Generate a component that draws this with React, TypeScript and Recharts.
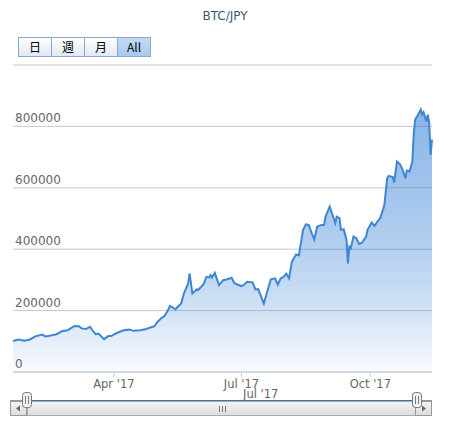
import { AreaChart, Area, XAxis, YAxis, CartesianGrid } from 'recharts';

// BTC/JPY closes (2017)
const dates = [
  '2017-01-19', '2017-01-23', '2017-01-27', '2017-01-31', '2017-02-04', '2017-02-09', '2017-02-11',
  '2017-02-15', '2017-02-19', '2017-02-23', '2017-02-27', '2017-03-01', '2017-03-04', '2017-03-07',
  '2017-03-09', '2017-03-12', '2017-03-15', '2017-03-16', '2017-03-19', '2017-03-21', '2017-03-25',
  '2017-03-28', '2017-03-30', '2017-04-03', '2017-04-08', '2017-04-12', '2017-04-15', '2017-04-20',
  '2017-04-24', '2017-04-27', '2017-04-30', '2017-05-02', '2017-05-05', '2017-05-07', '2017-05-09',
  '2017-05-11', '2017-05-13', '2017-05-15', '2017-05-16', '2017-05-19', '2017-05-21', '2017-05-24',
  '2017-05-25', '2017-05-27', '2017-05-30', '2017-05-31', '2017-06-02', '2017-06-04', '2017-06-06',
  '2017-06-08', '2017-06-09', '2017-06-10', '2017-06-12', '2017-06-15', '2017-06-18', '2017-06-21',
  '2017-06-24', '2017-06-26', '2017-06-28', '2017-07-01', '2017-07-03', '2017-07-05', '2017-07-09',
  '2017-07-11', '2017-07-13', '2017-07-17', '2017-07-19', '2017-07-22', '2017-07-25', '2017-07-27',
  '2017-07-29', '2017-07-31', '2017-08-02', '2017-08-04', '2017-08-06', '2017-08-09', '2017-08-11',
  '2017-08-14', '2017-08-16', '2017-08-18', '2017-08-20', '2017-08-22', '2017-08-24', '2017-08-27',
  '2017-08-29', '2017-08-30', '2017-09-02', '2017-09-04', '2017-09-06', '2017-09-07', '2017-09-09',
  '2017-09-10', '2017-09-12', '2017-09-14', '2017-09-15', '2017-09-16', '2017-09-17', '2017-09-19',
  '2017-09-21', '2017-09-23', '2017-09-25', '2017-09-28', '2017-09-29', '2017-10-02', '2017-10-04',
  '2017-10-06', '2017-10-08', '2017-10-10', '2017-10-11', '2017-10-13', '2017-10-14', '2017-10-17',
  '2017-10-18', '2017-10-20', '2017-10-22', '2017-10-24', '2017-10-26', '2017-10-27', '2017-10-29',
  '2017-10-31', '2017-11-01', '2017-11-02', '2017-11-04', '2017-11-06', '2017-11-07', '2017-11-08',
  '2017-11-10', '2017-11-11', '2017-11-12', '2017-11-13', '2017-11-14',
];

const prices = [
  101000, 106000, 102000, 106000, 116000, 122000, 116000,
  119000, 123000, 133000, 136000, 142000, 150000, 149000,
  142000, 140000, 147000, 140000, 123000, 125000, 107000,
  117000, 117000, 127000, 136000, 138000, 134000, 136000,
  140000, 145000, 149000, 163000, 176000, 182000, 196000,
  215000, 210000, 204000, 210000, 223000, 256000, 289000,
  321000, 256000, 269000, 267000, 276000, 286000, 310000,
  308000, 316000, 308000, 323000, 283000, 299000, 302000,
  307000, 289000, 285000, 280000, 285000, 294000, 292000,
  269000, 270000, 223000, 256000, 302000, 305000, 285000,
  305000, 310000, 320000, 305000, 359000, 383000, 380000,
  463000, 481000, 479000, 454000, 432000, 473000, 479000,
  479000, 506000, 539000, 512000, 485000, 506000, 501000,
  463000, 465000, 430000, 354000, 408000, 403000, 441000,
  436000, 417000, 421000, 441000, 463000, 487000, 476000,
  490000, 501000, 528000, 544000, 631000, 639000, 635000,
  617000, 686000, 678000, 659000, 631000, 656000, 653000,
  686000, 778000, 822000, 838000, 855000, 838000, 846000,
  816000, 838000, 811000, 707000, 757000,
];

const yTicks = [0, 200000, 400000, 600000, 800000, 1000000];
const xTickDates = ['2017-04-01', '2017-07-01', '2017-10-01'];
const xTickLabels = ["Apr '17", "Jul '17", "Oct '17"];
const rangeButtons = ['日', '週', '月', 'All'];

const toTs = (s: string) => {
  const [y, m, d] = s.split('-').map(Number);
  return Date.UTC(y, m - 1, d);
};

const data = dates.map((d, i) => ({ t: toTs(d), v: prices[i] }));
const xTicks = xTickDates.map(toTs);

const FONT = '"DejaVu Sans", Verdana, sans-serif';

const renderYTick = (props: any) => {
  const { y, payload } = props;
  if (payload.value > 800000) return <g />;
  return (
    <text x={15} y={y - 4} fill="#666" fontSize={12} fontFamily={FONT} textAnchor="start">
      {payload.value}
    </text>
  );
};

const renderXTick = (props: any) => {
  const { x, y, payload } = props;
  const idx = xTicks.indexOf(payload.value);
  return (
    <text x={x} y={y + 9} fill="#666" fontSize={11.5} fontFamily={FONT} textAnchor="middle">
      {xTickLabels[idx]}
    </text>
  );
};

function RangeSelector() {
  return (
    <div style={{ position: 'absolute', left: 18, top: 37, display: 'flex' }}>
      {rangeButtons.map((b, i) => {
        const active = b === 'All';
        return (
          <div
            key={b}
            style={{
              width: 34,
              height: 20,
              boxSizing: 'border-box',
              border: '1px solid #8fa6c4',
              marginLeft: i === 0 ? 0 : -1,
              background: active
                ? 'linear-gradient(#c4daf5, #a9c8ee)'
                : 'linear-gradient(#ffffff, #dfe9f6)',
              fontSize: 12,
              lineHeight: '18px',
              textAlign: 'center',
              color: '#000',
              fontFamily: '"Noto Sans CJK JP", "DejaVu Sans", sans-serif',
            }}
          >
            {b}
          </div>
        );
      })}
    </div>
  );
}

function Scrollbar() {
  return (
    <svg width={450} height={428} style={{ position: 'absolute', left: 0, top: 0, pointerEvents: 'none' }}>
      <defs>
        <linearGradient id="sbg" x1="0" y1="0" x2="0" y2="1">
          <stop offset="0" stopColor="#f4f4f4" />
          <stop offset="1" stopColor="#dcdcdc" />
        </linearGradient>
      </defs>
      <text x={243} y={398} fill="#666" fontSize={11.5} fontFamily={FONT}>
        Jul '17
      </text>
      {/* track */}
      <rect x={10.5} y={401.5} width={421} height={14} fill="#eee" stroke="#999" />
      <rect x={27.5} y={401.5} width={388} height={14} fill="url(#sbg)" stroke="#aaa" />
      {/* arrow buttons */}
      <rect x={10.5} y={401.5} width={16} height={14} fill="url(#sbg)" stroke="#999" />
      <rect x={415.5} y={401.5} width={16} height={14} fill="url(#sbg)" stroke="#999" />
      <path d="M 20 405.5 L 16 408.5 L 20 411.5 Z" fill="#666" />
      <path d="M 422 405.5 L 426 408.5 L 422 411.5 Z" fill="#666" />
      {/* grip */}
      <path d="M 219.5 406 V 412 M 222.5 406 V 412 M 225.5 406 V 412" stroke="#777" />
      {/* navigator outline */}
      <path d="M 27 400.5 H 417" stroke="#4572a7" />
      <path d="M 10 400.5 H 27 M 417 400.5 H 432" stroke="#999" />
      {/* handles */}
      {[27, 417].map((cx) => (
        <g key={cx}>
          <rect x={cx - 4.5} y={392.5} width={9} height={15} rx={3} fill="#f2f2f2" stroke="#777" />
          <path d={`M ${cx - 1.5} 396 V 404 M ${cx + 1.5} 396 V 404`} stroke="#777" />
        </g>
      ))}
    </svg>
  );
}

export default function App() {
  return (
    <div
      style={{
        position: 'absolute',
        left: 0,
        top: 0,
        width: 450,
        height: 428,
        background: '#fff',
        overflow: 'hidden',
      }}
    >
      <div
        style={{
          position: 'absolute',
          top: 9,
          width: 450,
          textAlign: 'center',
          fontSize: 12,
          color: '#3e576f',
          fontFamily: FONT,
        }}
      >
        BTC/JPY
      </div>
      <RangeSelector />
      <div style={{ position: 'absolute', left: 0, top: 0 }}>
        <AreaChart
          width={450}
          height={428}
          data={data}
          margin={{ top: 65, right: 18, bottom: 36, left: 12 }}
        >
          <defs>
            <linearGradient id="btcFill" x1="0" y1="0" x2="0" y2="1">
              <stop offset="0%" stopColor="#3a84d8" stopOpacity={1} />
              <stop offset="50%" stopColor="#3a84d8" stopOpacity={0.66} />
              <stop offset="76%" stopColor="#3a84d8" stopOpacity={0.4} />
              <stop offset="100%" stopColor="#3a84d8" stopOpacity={0.05} />
            </linearGradient>
          </defs>
          <CartesianGrid horizontal vertical={false} stroke="#c8c8c8" />
          <XAxis
            dataKey="t"
            type="number"
            scale="time"
            domain={[data[0].t, data[data.length - 1].t]}
            ticks={xTicks}
            tick={renderXTick}
            tickLine={{ stroke: '#c0d0e0' }}
            tickSize={5}
            axisLine={{ stroke: '#c0d0e0' }}
            height={20}
            interval={0}
          />
          <YAxis
            width={1}
            domain={[0, 1000000]}
            ticks={yTicks}
            tick={renderYTick}
            axisLine={false}
            tickLine={false}
            interval={0}
          />
          <Area
            type="linear"
            dataKey="v"
            stroke="#3f86d2"
            strokeWidth={2}
            fill="url(#btcFill)"
            dot={false}
            activeDot={false}
            isAnimationActive={false}
          />
        </AreaChart>
      </div>
      <Scrollbar />
    </div>
  );
}
